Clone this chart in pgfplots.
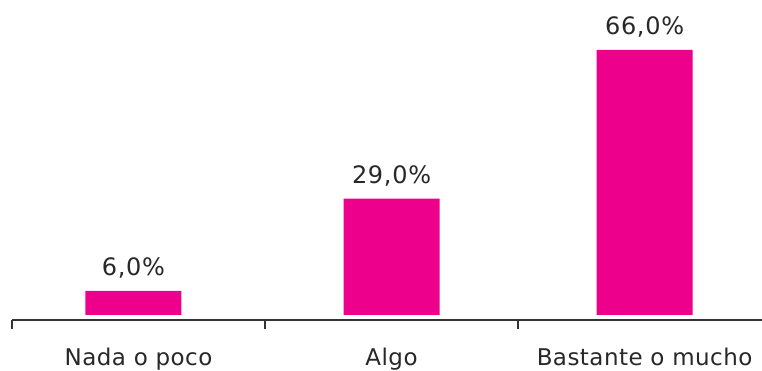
\documentclass[border=0pt]{standalone}
\usepackage{pgfplots}
\pgfplotsset{compat=1.18}
\usepackage{fontspec}
\setmainfont{DejaVu Sans}
\newfontfamily\lblfont[LetterSpace=2.0]{DejaVu Sans}
\newfontfamily\valfont[LetterSpace=3.0]{DejaVu Sans}
\definecolor{barmag}{RGB}{236,0,140}
\definecolor{txt}{RGB}{40,40,40}
\definecolor{axl}{RGB}{51,51,51}
\begin{document}
\begin{tikzpicture}[x=1pt,y=1pt]
\begin{axis}[
  at={(12pt,50pt)}, anchor=south west,
  scale only axis,
  width=750pt, height=320pt,
  xmin=-0.5, xmax=2.464,
  ymin=-1.25, ymax=78.45,
  axis y line=none,
  axis x line*=bottom,
  axis line style={draw=axl, line width=1.5pt, -},
  xtick={0,1,2},
  xticklabels={Nada o poco, Algo, Bastante o mucho},
  major tick length=0pt,
  extra x ticks={-0.5,0.5,1.5},
  extra x tick labels={},
  extra x tick style={major tick length=9pt, tick align=outside, tick style={draw=axl, line width=1.5pt}},
  xticklabel style={font=\lblfont\fontsize{23}{27}\selectfont, text=txt, yshift=-24pt},
  ybar, bar width=96pt,
  /pgf/number format/assume math mode=true,
  nodes near coords={\pgfmathprintnumber[fixed,fixed zerofill,precision=1,use comma]{\pgfplotspointmeta}\%},
  every node near coord/.append style={font=\valfont\fontsize{24}{28}\selectfont, text=txt, yshift=12pt, inner sep=0pt},
  clip=false,
]
\addplot[fill=barmag, draw=none] coordinates {(-0.02,6.0) (1,29.0) (2,66.0)};
\end{axis}
\pgfresetboundingbox
\path (0,0) rectangle (762,370);
\end{tikzpicture}
\end{document}
